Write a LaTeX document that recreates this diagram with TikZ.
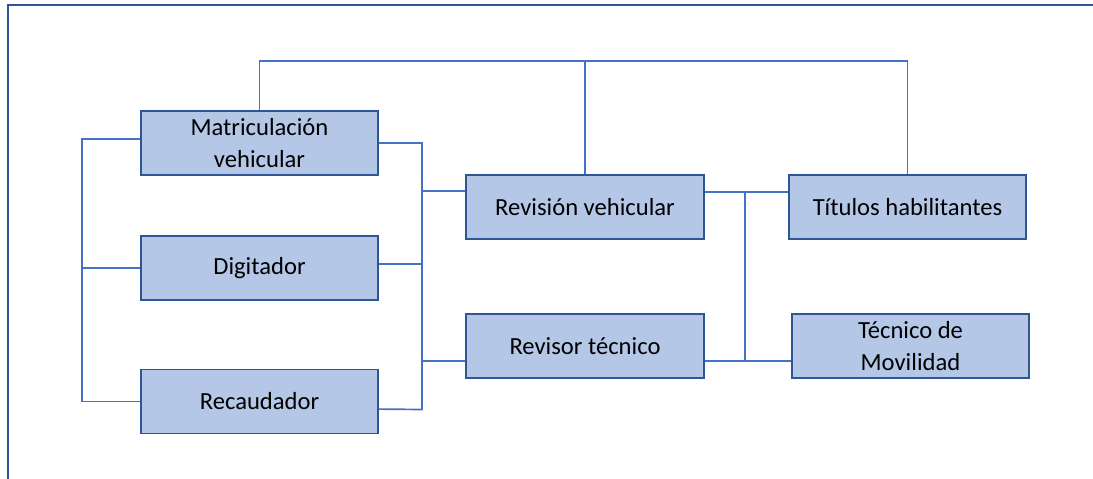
\documentclass[tikz,border=0pt]{standalone}
\usepackage{fontspec}
\setmainfont{Carlito}
\usetikzlibrary{calc, positioning}

\definecolor{boxfill}{HTML}{B4C7E7}
\definecolor{boxline}{HTML}{2F5597}
\definecolor{linkline}{HTML}{4472C4}

\tikzset{
    cargo/.style={draw=boxline, line width=1.4pt, fill=boxfill, minimum width=5.925cm,
        minimum height=1.6cm, align=center, inner sep=2pt,
        font=\fontsize{17.5}{23}\selectfont},
    link/.style={draw=linkline, line width=1.2pt},
    marco/.style={draw=boxline, line width=1.8pt}
}

\begin{document}
\begin{tikzpicture}[x=0.025cm, y=-0.025cm]
                        \useasboundingbox (0,0) rectangle (1093,479);
                        \draw[marco] (8,485) -- (8,5) -- (1100,5);

                        \node[cargo] (mat) at (259.5, 143) {Matriculación\\vehicular};
                        \node[cargo] (dig) at (259.5, 268) {Digitador};
                        \node[cargo] (rec) at (259.5, 401.5) {Recaudador};
                        \node[cargo] (rev) at (585, 207) {Revisión vehicular};
                        \node[cargo] (rvt) at (585, 346) {Revisor técnico};
                        \node[cargo] (tit) at (907.5, 207) {Títulos habilitantes};
                        \node[cargo] (tec) at (910.5, 346) {Técnico de\\Movilidad};

                        \coordinate (arriba) at (0, 61);
                        \coordinate (izq) at (82, 0);
                        \coordinate (centro) at (422, 0);
                        \coordinate (der) at (745, 0);

                        % bus superior
                        \draw[link] (mat.north) |- (arriba -| tit.north) -- (tit.north);
                        \draw[link] (rev.north) -- (rev.north |- arriba);

                        % bus izquierdo
                        \draw[link] ([yshift=0.1cm]mat.west) -| (izq |- rec.west) -- (rec.west);
                        \draw[link] (dig.west) -- (dig.west -| izq);

                        % bus central
                        \draw[link] (mat.east) -| ($(centro |- rec.east)+(0,8)$) -- ([yshift=-0.19cm]rec.east);
                        \draw[link] ([yshift=0.1cm]dig.east) -- ([yshift=0.1cm]dig.east -| centro);
                        \draw[link] ([yshift=0.4cm]rev.west -| centro) -- ([yshift=0.4cm]rev.west);
                        \draw[link] ([yshift=-0.375cm]rvt.west -| centro) -- ([yshift=-0.375cm]rvt.west);

                        % bus derecho
                        \draw[link] ([yshift=0.375cm]rev.east) -- ([yshift=0.375cm]tit.west);
                        \draw[link] ([yshift=-0.375cm]rvt.east) -- ([yshift=-0.375cm]tec.west);
                        \draw[link] ([yshift=0.375cm]rev.east -| der) -- ([yshift=-0.375cm]rvt.east -| der);
                    \end{tikzpicture}
\end{document}
